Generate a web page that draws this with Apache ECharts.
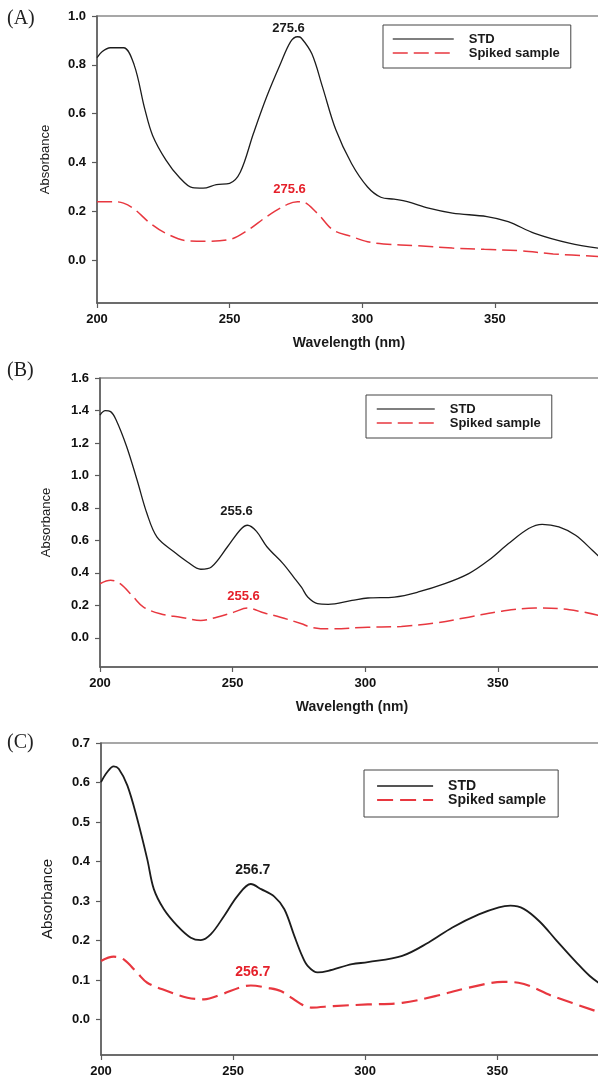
<!DOCTYPE html>
<html>
<head>
<meta charset="utf-8">
<style>
html,body{margin:0;padding:0;background:#fff;}
#chart{width:598px;height:1081px;}
</style>
<script src="https://cdn.jsdelivr.net/npm/echarts@6/dist/echarts.min.js"></script>
</head>
<body>
<div id="chart"></div>
<script>
// ---------- Data ----------
var xTicks = [200, 250, 300, 350];
var yTicksA = [0, 0.2, 0.4, 0.6, 0.8, 1.0];
var yTicksB = [0, 0.2, 0.4, 0.6, 0.8, 1.0, 1.2, 1.4, 1.6];
var yTicksC = [0, 0.1, 0.2, 0.3, 0.4, 0.5, 0.6, 0.7];
var seriesNames = ['STD', 'Spiked sample'];
var panelLabels = ['(A)', '(B)', '(C)'];

// Panel A
var aStdX = [200,202,205,210,214,218,221,226,231,236,240,245,250,254,259,264,269,273,275.6,277,281,285,290,296,302,307,312,317,325,334,347,355,365,378,390];
var aStdY = [0.83,0.855,0.87,0.87,0.80,0.62,0.51,0.41,0.34,0.297,0.295,0.31,0.315,0.36,0.52,0.67,0.80,0.895,0.915,0.91,0.845,0.71,0.535,0.395,0.30,0.258,0.25,0.24,0.213,0.193,0.179,0.158,0.11,0.07,0.048];
var aSpkX = [200,206,210,214,220,226,234,241,250,257,264,272,275.6,277,283,289,296,302,308,321,334,346,359,372,390];
var aSpkY = [0.24,0.24,0.234,0.21,0.152,0.11,0.08,0.078,0.085,0.124,0.179,0.23,0.24,0.24,0.193,0.124,0.097,0.076,0.067,0.059,0.05,0.045,0.039,0.026,0.015];
var aPeak = 275.6;

// Panel B
var bStdX = [200,202,204,206,210,214,217.7,221.5,228,233,238,242,248,253,255.6,259,263,269,273,276,278.3,282,286,295,301,311,320,330,339,346.5,354,361.6,366.7,373,379.3,385.6,390];
var bStdY = [1.372,1.399,1.393,1.345,1.18,0.97,0.765,0.62,0.528,0.467,0.422,0.436,0.559,0.667,0.693,0.655,0.559,0.457,0.374,0.31,0.251,0.21,0.206,0.23,0.245,0.251,0.282,0.333,0.395,0.477,0.58,0.673,0.699,0.683,0.631,0.539,0.47];
var bSpkX = [200,204,207.6,212.6,216.4,222.7,230.3,238,244,250.5,255.6,262,268,276,279.5,286,301,313.6,326,339,351.5,364,377,390];
var bSpkY = [0.333,0.354,0.333,0.251,0.189,0.148,0.127,0.107,0.127,0.158,0.183,0.152,0.127,0.086,0.065,0.055,0.065,0.07,0.09,0.127,0.164,0.183,0.173,0.13];
var bPeak = 255.6;

// Panel C
var cStdX = [200,202.3,204.8,206.7,210,213.7,217.5,220,223.8,228.9,234,237.8,241.6,246.6,251.7,256.7,260.6,265.6,269.4,273.2,276,278.3,282,286,295,301,314,324,333,343,350.6,355,360,366,372,380,385,390];
var cStdY = [0.601,0.626,0.641,0.635,0.592,0.508,0.406,0.33,0.279,0.237,0.207,0.201,0.216,0.262,0.313,0.343,0.33,0.311,0.279,0.211,0.163,0.135,0.119,0.123,0.14,0.145,0.161,0.195,0.233,0.266,0.284,0.288,0.28,0.248,0.203,0.144,0.11,0.085];
var cSpkX = [200,204.8,208.6,213.7,217.5,225,232.7,239,245.4,253,256.7,263,268,276,279.6,288,301,314,326.5,339,352,358,371,390];
var cSpkY = [0.148,0.159,0.152,0.118,0.093,0.072,0.055,0.051,0.063,0.082,0.086,0.08,0.072,0.038,0.03,0.034,0.038,0.042,0.059,0.08,0.095,0.093,0.059,0.015];
var cPeak = 256.7;

// ---------- Helpers ----------
function zip(xs, ys) { return xs.map(function (x, i) { return [x, ys[i]]; }); }
function valAt(xs, ys, x) { var i = xs.indexOf(x); return ys[i]; }

var FONT = '"Liberation Sans", Arial, sans-serif';
var BLACK = '#1c1c1c';
var RED = '#e8373f';
var RED_TXT = '#e5202a';

var panels = [
  {grid:{left:97, top:16, width:504, height:287}, ymin:-0.175, ymax:1.0, yTicks:yTicksA, dec:1,
   std:[aStdX,aStdY], spk:[aSpkX,aSpkY], peak:aPeak, stdOff:[-9,-8], spkOff:[-8,-12],
   lw:1.3, rw:1.5, dash:[15,6], nameGap:45, yNameSize:13, xName:'Wavelength (nm)',
   legend:{left:383, top:25, padding:[7,11,8,9], itemWidth:61, fontSize:13}},
  {grid:{left:100, top:378, width:504, height:289}, ymin:-0.18, ymax:1.6, yTicks:yTicksB, dec:1,
   std:[bStdX,bStdY], spk:[bSpkX,bSpkY], peak:bPeak, stdOff:[-11,-14], spkOff:[-4,-12],
   lw:1.3, rw:1.5, dash:[15,6], nameGap:47, yNameSize:13, xName:'Wavelength (nm)',
   legend:{left:366, top:395, padding:[7,11,8,10], itemWidth:58, fontSize:13}},
  {grid:{left:101, top:743, width:502, height:312}, ymin:-0.09, ymax:0.7, yTicks:yTicksC, dec:1,
   std:[cStdX,cStdY], spk:[cSpkX,cSpkY], peak:cPeak, stdOff:[2,-14], spkOff:[2,-13],
   lw:1.8, rw:2.2, dash:[16,7], nameGap:46, yNameSize:15, xName:'Wavelength (nm)',
   legend:{left:364, top:770, padding:[9,12,10,12], itemWidth:56, fontSize:14}}
];

var option = {
  backgroundColor: '#fff',
  animation: false,
  grid: [], xAxis: [], yAxis: [], series: [], legend: [],
  graphic: []
};

var hiddenSymbol = {color:'rgba(0,0,0,0)', borderWidth:0, borderColor:'rgba(0,0,0,0)', opacity:0};

panels.forEach(function (p, i) {
  var g = Object.assign({show:true, borderColor:'#8a8a8a', borderWidth:1.5, backgroundColor:'transparent', containLabel:false, outerBoundsMode:'none'}, p.grid);
  option.grid.push(g);
  option.xAxis.push({
    type:'value', gridIndex:i, min:200, max:390,
    name: p.xName, nameLocation:'middle', nameGap:33,
    nameTextStyle:{fontFamily:FONT, fontSize:14, fontWeight:'bold', color:'#1a1a1a'},
    axisLine:{show:true, onZero:false, lineStyle:{color:'#5a5a5a', width:1.5}},
    axisTick:{show:true, inside:false, length:5, customValues:xTicks, lineStyle:{color:'#5a5a5a', width:1.2}},
    axisLabel:{show:true, margin:10, customValues:xTicks, fontFamily:FONT, fontSize:13, fontWeight:'bold', color:'#111',
      formatter:function(v){return String(v);}},
    splitLine:{show:false}
  });
  option.yAxis.push({
    type:'value', gridIndex:i, min:p.ymin, max:p.ymax,
    name:'Absorbance', nameLocation:'middle', nameGap:p.nameGap, nameRotate:90,
    nameTextStyle:{fontFamily:FONT, fontSize:p.yNameSize, color:'#1a1a1a'},
    axisLine:{show:true, onZero:false, lineStyle:{color:'#5a5a5a', width:1.5}},
    axisTick:{show:true, inside:false, length:5, customValues:p.yTicks, lineStyle:{color:'#5a5a5a', width:1.2}},
    axisLabel:{show:true, margin:11, customValues:p.yTicks, fontFamily:FONT, fontSize:13, fontWeight:'bold', color:'#111',
      formatter:function(v){return Number(v).toFixed(p.dec);}},
    splitLine:{show:false}
  });
  var stdPeakVal = valAt(p.std[0], p.std[1], p.peak);
  var spkPeakVal = valAt(p.spk[0], p.spk[1], p.peak);
  option.series.push({
    type:'line', name:seriesNames[0], xAxisIndex:i, yAxisIndex:i,
    data: zip(p.std[0], p.std[1]), smooth:0.35, symbol:'none', showSymbol:false,
    lineStyle:{color:BLACK, width:p.lw}, itemStyle:{color:BLACK},
    markPoint:{symbol:'circle', symbolSize:0, silent:true, animation:false,
      label:{show:true, position:'inside', offset:p.stdOff, formatter:'{c}', fontFamily:FONT, fontSize:p.legend.fontSize, fontWeight:'bold', color:'#1a1a1a'},
      data:[{coord:[p.peak, stdPeakVal], value:p.peak}]}
  });
  option.series.push({
    type:'line', name:seriesNames[1], xAxisIndex:i, yAxisIndex:i,
    data: zip(p.spk[0], p.spk[1]), smooth:0.35, symbol:'none', showSymbol:false,
    lineStyle:{color:RED, width:p.rw, type:p.dash}, itemStyle:{color:RED},
    markPoint:{symbol:'circle', symbolSize:0, silent:true, animation:false,
      label:{show:true, position:'inside', offset:p.spkOff, formatter:'{c}', fontFamily:FONT, fontSize:p.legend.fontSize, fontWeight:'bold', color:RED_TXT},
      data:[{coord:[p.peak, spkPeakVal], value:p.peak}]}
  });
  var L = p.legend;
  option.legend.push({
    show:true, orient:'vertical', left:L.left, top:L.top, padding:L.padding,
    itemWidth:L.itemWidth, itemHeight:14, itemGap:0,
    borderColor:'#444', borderWidth:1, backgroundColor:'#fff', borderRadius:0,
    textStyle:{fontFamily:FONT, fontSize:L.fontSize, fontWeight:'bold', color:'#1a1a1a', lineHeight:14, padding:[0,0,0,10]},
    selectedMode:false,
    itemStyle: hiddenSymbol,
    data:[
      {name:seriesNames[0], lineStyle:{color:'#555', width:p.lw, type:'solid'}, itemStyle:hiddenSymbol},
      {name:seriesNames[1], lineStyle:{color:RED, width:p.rw, type:p.dash}, itemStyle:hiddenSymbol}
    ]
  });
  option.graphic.push({
    type:'text', left:7, top:[9, 361, 733][i], silent:true,
    style:{text:panelLabels[i], font:'20px "Liberation Serif", "Times New Roman", serif', fill:'#222'}
  });
});

var chart = echarts.init(document.getElementById('chart'), null, {renderer:'canvas'});
chart.setOption(option);
</script>
</body>
</html>
